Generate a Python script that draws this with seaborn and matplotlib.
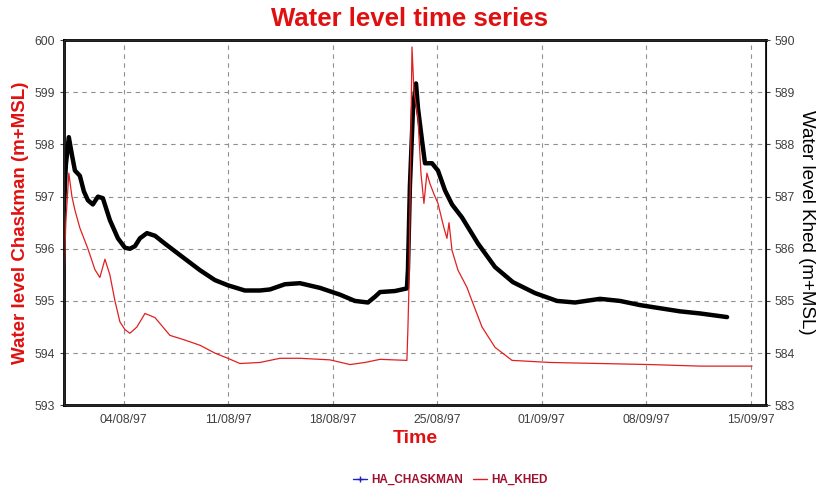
import pandas as pd
import matplotlib
matplotlib.use("Agg")
import matplotlib.pyplot as plt
import matplotlib.dates as mdates
from matplotlib.lines import Line2D
import seaborn as sns

# Lecturas del grafico (dias desde 31/07/97 00:00)
start = pd.Timestamp("1997-07-31")

chaskman_days = [0.0, 0.13, 0.33, 0.54, 0.74, 1.07, 1.34, 1.61, 1.94, 2.28, 2.61, 3.08,
                 3.62, 4.09, 4.42, 4.76, 5.09, 5.56, 6.1, 6.76, 7.77, 9.11, 10.11, 10.98,
                 12.12, 13.13, 13.8, 14.8, 15.81, 17.15, 18.49, 19.49, 20.36, 20.83, 21.17,
                 22.17, 22.97, 23.04, 23.17, 23.38, 23.58, 23.71, 23.98, 24.18, 24.65, 25.05,
                 25.52, 25.99, 26.66, 27.73, 28.87, 30.07, 31.55, 33.02, 34.23, 35.9, 37.24,
                 38.58, 39.92, 41.26, 42.6, 44.41]
chaskman_level = [596.74, 597.6, 598.14, 597.8, 597.5, 597.4, 597.1, 596.93, 596.85, 597.0,
                  596.97, 596.55, 596.2, 596.02, 596.0, 596.05, 596.2, 596.3, 596.25, 596.1,
                  595.88, 595.59, 595.4, 595.3, 595.2, 595.2, 595.22, 595.32, 595.34, 595.25,
                  595.12, 595.0, 594.97, 595.08, 595.17, 595.19, 595.24, 595.6, 597.2, 598.7,
                  599.17, 598.7, 598.08, 597.64, 597.64, 597.5, 597.12, 596.85, 596.6, 596.1,
                  595.65, 595.36, 595.15, 595.0, 594.97, 595.04, 595.0, 594.92, 594.86, 594.8,
                  594.76, 594.69]

khed_days = [0.0, 0.13, 0.33, 0.54, 0.74, 1.07, 1.61, 2.08, 2.41, 2.75, 3.08, 3.42, 3.75,
             4.09, 4.42, 4.89, 5.43, 6.1, 6.63, 7.1, 8.1, 9.11, 10.11, 10.98, 11.79, 13.13,
             14.47, 15.81, 17.82, 19.16, 20.16, 21.17, 22.97, 23.04, 23.11, 23.31, 23.44,
             23.71, 23.91, 24.11, 24.31, 24.51, 24.78, 25.05, 25.45, 25.65, 25.79, 25.99,
             26.39, 26.99, 27.33, 28.0, 28.87, 30.01, 32.55, 35.9, 39.25, 42.6, 46.08]
khed_level = [585.3, 586.5, 587.45, 587.0, 586.74, 586.4, 586.0, 585.6, 585.45, 585.8,
              585.5, 585.0, 584.6, 584.45, 584.38, 584.5, 584.76, 584.68, 584.5, 584.34,
              584.25, 584.15, 584.0, 583.9, 583.8, 583.82, 583.9, 583.9, 583.87, 583.78,
              583.82, 583.88, 583.86, 584.5, 585.3, 589.87, 589.04, 588.5, 587.45, 586.87,
              587.45, 587.25, 587.05, 586.87, 586.4, 586.2, 586.5, 585.97, 585.59, 585.26,
              585.0, 584.5, 584.11, 583.86, 583.82, 583.8, 583.78, 583.75, 583.75]

tick_dates = ["1997-08-04", "1997-08-11", "1997-08-18", "1997-08-25",
              "1997-09-01", "1997-09-08", "1997-09-15"]

df_ch = pd.DataFrame({"fecha": start + pd.to_timedelta(chaskman_days, unit="D"),
                      "nivel": chaskman_level})
df_kh = pd.DataFrame({"fecha": start + pd.to_timedelta(khed_days, unit="D"),
                      "nivel": khed_level})

sns.set_style("white")
plt.rcParams["font.family"] = ["Liberation Sans", "DejaVu Sans"]

fig = plt.figure(figsize=(8.19, 4.9), dpi=100)
ax = fig.add_axes([0.078, 0.173, 0.857, 0.745])

sns.lineplot(data=df_ch, x="fecha", y="nivel", ax=ax, color="#2020c0", lw=1.2)
sns.lineplot(data=df_ch, x="fecha", y="nivel", ax=ax, color="black", lw=3.2)
ax.set_ylim(593, 600)
ax.set_xlim(start, start + pd.Timedelta(days=47))

ax2 = ax.twinx()
sns.lineplot(data=df_kh, x="fecha", y="nivel", ax=ax2, color="#e02020", lw=0.9)
ax2.set_ylim(583, 590)

ax.set_xticks(pd.to_datetime(tick_dates))
ax.xaxis.set_major_formatter(mdates.DateFormatter("%d/%m/%y"))
ax.grid(True, ls=(0, (4, 4)), color="#909090", lw=0.8)
ax.tick_params(axis="both", labelsize=8.8, colors="#404040", length=3, direction="out")
ax2.tick_params(axis="y", labelsize=8.8, colors="#404040", length=3, direction="out")
ax.tick_params(axis="x", color="#d0d040")

for sp in ["left", "bottom", "top"]:
    ax.spines[sp].set_linewidth(2)
    ax.spines[sp].set_color("black")
ax2.spines["right"].set_linewidth(1.2)
ax2.spines["right"].set_color("black")

ax.set_xlabel("Time", color="#e01010", fontsize=14, fontweight="bold", labelpad=3)
ax.set_ylabel("Water level Chaskman (m+MSL)", color="#e01010", fontsize=13.5,
              fontweight="bold", labelpad=4)
ax2.set_ylabel("Water level Khed (m+MSL)", color="black", fontsize=13.5,
               rotation=270, labelpad=14)
fig.text(0.5, 1 - 19 / 490, "Water level time series", color="#e01010", fontsize=18.5,
         fontweight="bold", ha="center", va="center")

handles = [Line2D([0], [0], color="#2020c0", lw=1, marker="+", markersize=4,
                  markeredgecolor="#2020c0"),
           Line2D([0], [0], color="#e02020", lw=1)]
leg = fig.legend(handles, ["HA_CHASKMAN", "HA_KHED"], loc="center",
                 bbox_to_anchor=(0.55, 1 - 480 / 490), ncol=2, frameon=False,
                 prop={"size": 8.5, "weight": "bold"}, handlelength=1.2,
                 columnspacing=0.8, handletextpad=0.4)
for t in leg.get_texts():
    t.set_color("#a01030")

fig.savefig("out.png", dpi=100)
